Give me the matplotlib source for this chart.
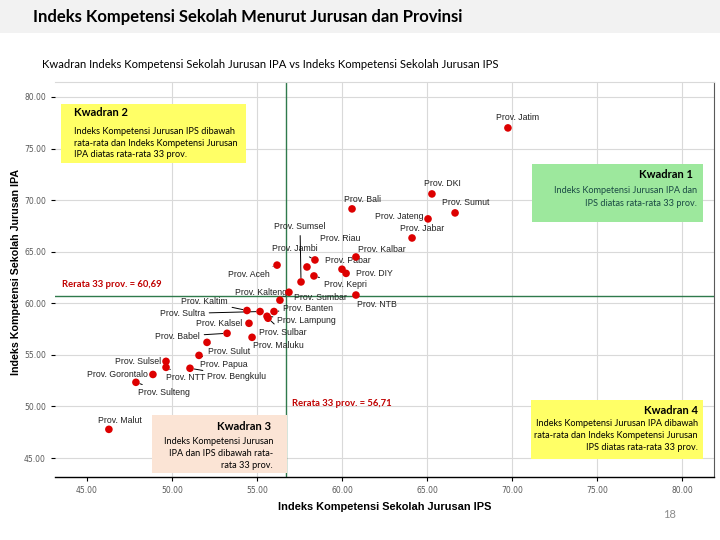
import matplotlib
matplotlib.use('Agg')
import matplotlib.pyplot as plt
from matplotlib.patches import Rectangle

# data: indeks kompetensi sekolah per provinsi
provinsi = ['Prov. Jatim', 'Prov. DKI', 'Prov. Sumut', 'Prov. Bali', 'Prov. Jateng',
            'Prov. Jabar', 'Prov. Kalbar', 'Prov. Aceh', 'Prov. Jambi', 'Prov. Riau',
            'Prov. Kepri', 'Prov. Sumsel', 'Prov. Pabar', 'Prov. DIY', 'Prov. Kalteng',
            'Prov. Sumbar', 'Prov. NTB', 'Prov. Kaltim', 'Prov. Sultra', 'Prov. Banten',
            'Prov. Lampung', 'Prov. Sulbar', 'Prov. Kalsel', 'Prov. Babel', 'Prov. Maluku',
            'Prov. Sulut', 'Prov. Papua', 'Prov. Sulsel', 'Prov. NTT', 'Prov. Bengkulu',
            'Prov. Gorontalo', 'Prov. Sulteng', 'Prov. Malut']
ips = [69.76, 65.29, 66.65, 60.59, 65.06, 64.12, 60.82, 56.18, 58.41, 57.94,
       58.35, 57.59, 60.00, 60.24, 56.88, 56.35, 60.82, 54.41, 55.18, 56.00,
       55.59, 55.65, 54.53, 53.24, 54.71, 52.06, 51.59, 49.65, 49.65, 51.06,
       48.88, 47.88, 46.29]
ipa = [77.00, 70.60, 68.76, 69.15, 68.18, 66.33, 64.49, 63.70, 64.20, 63.52,
       62.65, 62.07, 63.30, 62.90, 61.07, 60.30, 60.80, 59.30, 59.20, 59.20,
       58.74, 58.55, 58.06, 57.09, 56.70, 56.21, 54.95, 54.37, 53.79, 53.70,
       53.10, 52.34, 47.78]
rerata_ips = 56.71
rerata_ipa = 60.69
ticks = [45, 50, 55, 60, 65, 70, 75, 80]

# posisi label (offset piksel dx, dy, ha, garis penunjuk)
label_pos = {
    'Prov. Jatim': (10, 10, 'center', True), 'Prov. DKI': (11, 10, 'center', False),
    'Prov. Sumut': (11, 10, 'center', True), 'Prov. Bali': (10, 9, 'center', False),
    'Prov. Jateng': (-5, 2, 'right', False), 'Prov. Jabar': (10, 9, 'center', True),
    'Prov. Kalbar': (26, 7, 'center', False), 'Prov. Aceh': (-7, -9, 'right', True),
    'Prov. Jambi': (-20, 11, 'center', True), 'Prov. Riau': (33, 28, 'center', False),
    'Prov. Kepri': (31, -9, 'center', True), 'Prov. Sumsel': (-1, 55, 'center', True),
    'Prov. Pabar': (6, 9, 'center', True), 'Prov. DIY': (10, 0, 'left', False),
    'Prov. Kalteng': (-2, 0, 'right', False), 'Prov. Sumbar': (14, 3, 'left', False),
    'Prov. NTB': (21, -9, 'center', True), 'Prov. Kaltim': (-19, 9, 'right', True),
    'Prov. Sultra': (-55, -2, 'right', True), 'Prov. Banten': (9, 3, 'left', True),
    'Prov. Lampung': (10, -4, 'left', True), 'Prov. Sulbar': (15, -14, 'center', True),
    'Prov. Kalsel': (-7, 0, 'right', False), 'Prov. Babel': (-27, -3, 'right', True),
    'Prov. Maluku': (26, -8, 'center', True), 'Prov. Sulut': (22, -9, 'center', True),
    'Prov. Papua': (25, -9, 'center', True), 'Prov. Sulsel': (-5, 0, 'right', False),
    'Prov. NTT': (20, -10, 'center', True), 'Prov. Bengkulu': (17, -8, 'left', True),
    'Prov. Gorontalo': (-5, 0, 'right', False), 'Prov. Sulteng': (28, -10, 'center', True),
    'Prov. Malut': (11, 9, 'center', True),
}

W, H = 720, 540
fig = plt.figure(figsize=(W / 100, H / 100), dpi=100)

def fx(px):
    return px / W

def fy(py):
    return 1 - py / H

# pita judul
fig.patches.append(Rectangle((0, fy(33)), 1, 33 / H, transform=fig.transFigure,
                             facecolor='#f2f2f2', edgecolor='none', zorder=0))
fig.text(fx(33), fy(17), 'Indeks Kompetensi Sekolah Menurut Jurusan dan Provinsi',
         family='Lato', weight='bold', size=12, va='center', ha='left')
fig.text(fx(42), fy(65), 'Kwadran Indeks Kompetensi Sekolah Jurusan IPA vs Indeks Kompetensi Sekolah Jurusan IPS',
         family='Lato', size=8.1, va='center', ha='left')

ax = fig.add_axes([fx(55), fy(477), (714 - 55) / W, (477 - 82) / H])
ax.set_xlim(43.12, 81.88)
ax.set_ylim(43.16, 81.45)
ax.set_xticks(ticks)
ax.set_yticks(ticks)
ax.set_xticklabels([f'{t:.2f}' for t in ticks])
ax.set_yticklabels([f'{t:.2f}' for t in ticks])
ax.tick_params(labelsize=5.5, labelcolor='#595959', length=3, width=0.8)
ax.grid(True, color='#d9d9d9', lw=0.8, zorder=0)
ax.get_xgridlines()[0].set_visible(False)
ax.set_axisbelow(True)
ax.spines['left'].set_visible(False)
ax.spines['top'].set_color('#d9d9d9')
ax.spines['right'].set_color('#595959')
ax.spines['bottom'].set_color('black')
ax.spines['bottom'].set_linewidth(1.0)

ax.axvline(rerata_ips, color='#2f7a4c', lw=1.0, zorder=2)
ax.axhline(rerata_ipa, color='#2f7a4c', lw=1.0, zorder=2)

ax.scatter(ips, ipa, s=30, color='#dd0000', edgecolor='none', zorder=5)

for nama, x, y in zip(provinsi, ips, ipa):
    dx, dy, ha, leader = label_pos[nama]
    props = dict(arrowstyle='-', color='black', lw=0.7, shrinkA=1, shrinkB=3) if leader else None
    ax.annotate(nama, (x, y), xytext=(dx, dy), textcoords='offset pixels',
                ha=ha, va='center', family='Liberation Sans', size=6.3,
                color='#222222', arrowprops=props, zorder=3)

ax.annotate(f'Rerata 33 prov. = {rerata_ipa:.2f}'.replace('.', ',', 2).replace('prov,', 'prov.'),
            (0.0106, rerata_ipa), xycoords=ax.get_yaxis_transform(),
            xytext=(0, 12), textcoords='offset pixels', ha='left', va='center',
            family='Lato', weight='bold', size=6.8, color='#c00000')
ax.annotate(f'Rerata 33 prov. = {rerata_ips:.2f}'.replace('.', ',', 2).replace('prov,', 'prov.'),
            (rerata_ips, 0.187), xycoords=ax.get_xaxis_transform(),
            xytext=(6, 0), textcoords='offset pixels', ha='left', va='center',
            family='Lato', weight='bold', size=6.8, color='#c00000')

fig.text(fx(385), fy(507), 'Indeks Kompetensi Sekolah Jurusan IPS', family='Liberation Sans',
         weight='bold', size=7.9, ha='center', va='center')
fig.text(fx(16), fy(272), 'Indeks Kompetensi Sekolah Jurusan IPA', family='Liberation Sans',
         weight='bold', size=7.7, ha='center', va='center', rotation=90)

# kotak kwadran
def kotak(x0, y0, x1, y1, warna, judul, tpos, baris, bpos, ha, warna_teks='black'):
    fig.patches.append(Rectangle((fx(x0), fy(y1)), (x1 - x0) / W, (y1 - y0) / H,
                                 transform=fig.transFigure, facecolor=warna,
                                 edgecolor='none', zorder=6))
    fig.text(fx(tpos[0]), fy(tpos[1]), judul, family='Lato', weight='bold', size=8,
             ha=ha, va='center', zorder=7)
    for i, teks in enumerate(baris):
        fig.text(fx(bpos[0]), fy(bpos[1] + 12 * i), teks, family='Lato', size=6.6,
                 ha=ha, va='center', color=warna_teks, zorder=7)

kotak(61, 104, 246, 163, '#ffff66', 'Kwadran 2', (74, 113),
      ['Indeks Kompetensi Jurusan IPS dibawah', 'rata-rata dan Indeks Kompetensi Jurusan',
       'IPA diatas rata-rata 33 prov.'], (74, 131), 'left')
kotak(532, 164, 703, 222, '#9de89d', 'Kwadran 1', (693, 175),
      ['Indeks Kompetensi Jurusan IPA dan', 'IPS diatas rata-rata 33 prov.'],
      (697, 191), 'right', '#1a4a44')
kotak(152, 415, 287, 473, '#fbe4d5', 'Kwadran 3', (271, 427),
      ['Indeks Kompetensi Jurusan', 'IPA dan IPS dibawah rata-', 'rata 33 prov.'],
      (273, 442), 'right')
kotak(531, 400, 703, 459, '#ffff66', 'Kwadran 4', (698, 411),
      ['Indeks Kompetensi Jurusan IPA dibawah', 'rata-rata dan Indeks Kompetensi Jurusan',
       'IPS diatas rata-rata 33 prov.'], (698, 424), 'right')

fig.text(fx(670), fy(514), '18', family='Lato', size=8, color='#8c8c8c', ha='center', va='center')

fig.savefig('out.png', dpi=100)
